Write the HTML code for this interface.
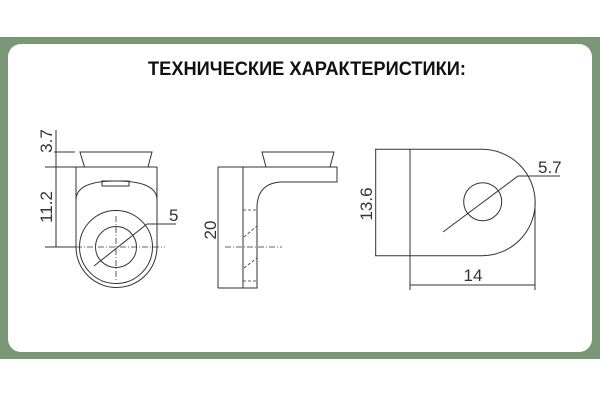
<!DOCTYPE html>
<html><head><meta charset="utf-8"><style>
html,body{margin:0;padding:0;background:#fff;}
svg{display:block;}
</style></head><body>
<svg width="600" height="400" viewBox="0 0 600 400" xmlns="http://www.w3.org/2000/svg">
<rect x="0" y="0" width="600" height="400" fill="#fff"/>
<rect x="0" y="37" width="600" height="322" fill="#7a9778"/>
<rect x="8" y="44" width="584" height="308" rx="13" fill="#fff"/>
<text x="307" y="75" text-anchor="middle" font-family="Liberation Sans, sans-serif" font-weight="bold" font-size="19" textLength="318" lengthAdjust="spacingAndGlyphs" fill="#111">ТЕХНИЧЕСКИЕ ХАРАКТЕРИСТИКИ:</text>
<g fill="none" stroke="#333" stroke-width="1">
<path d="M80 152 L152 152 L148 167 L84.5 167 Z"/>
<path d="M76 167 L157 167 L157 247 A40.5 40.5 0 0 1 76 247 Z"/>
<path d="M76 200 Q76 181 116 181 Q157 181 157 200"/>
<rect x="102" y="181" width="27" height="5"/>
<circle cx="116" cy="247" r="36.5"/>
<circle cx="116" cy="247" r="20.5"/>
<path d="M94 266 L147 224 L176 224"/>
<g stroke-dasharray="6 2 1 2" stroke-width="0.8"><path d="M76 247 L165 247"/><path d="M116 216 L116 280"/></g>
<path d="M56 130 L56 247 M54 152 L75 152 M45 167 L76 167 M45 247 L76 247"/>
<path d="M262 152 L334 152 L330 167 L266 167 Z"/>
<path d="M243 167 L337 167 L337 182 L280 182 Q257 184 257 208 L257 288 L243 288 Z"/>
<path d="M218 167 L218 288 M218 167 L243 167 M218 288 L243 288"/>
<g stroke-dasharray="3 2" stroke-width="0.8"><path d="M243 210 L257 210 M243 281 L257 281 M244 237 L257 226 M244 268 L257 258"/></g>
<path d="M225 247 L282 247" stroke-dasharray="6 2 1 2" stroke-width="0.8"/>
<path d="M410 149.3 L482 149.3 A53.2 53.2 0 0 1 482 255.7 L410 255.7 Z"/>
<circle cx="482.7" cy="201.7" r="19"/>
<path d="M443 232 L518 176 L560 176"/>
<path d="M375.7 149.3 L375.7 255.7 M375 149.3 L410 149.3 M375 255.7 L410 255.7"/>
<path d="M410 255.7 L410 290 M535 202 L535 290 M410 285 L535 285"/>
</g>
<g font-family="Liberation Sans, sans-serif" font-size="17" fill="#333">
<text x="169" y="221">5</text>
<text x="538" y="173">5.7</text>
<text x="473" y="281" text-anchor="middle">14</text>
<text transform="translate(52 141) rotate(-90)" text-anchor="middle">3.7</text>
<text transform="translate(52 207) rotate(-90)" text-anchor="middle">11.2</text>
<text transform="translate(216 230) rotate(-90)" text-anchor="middle">20</text>
<text transform="translate(372 204) rotate(-90)" text-anchor="middle">13.6</text>
</g>
</svg>
</body></html>
